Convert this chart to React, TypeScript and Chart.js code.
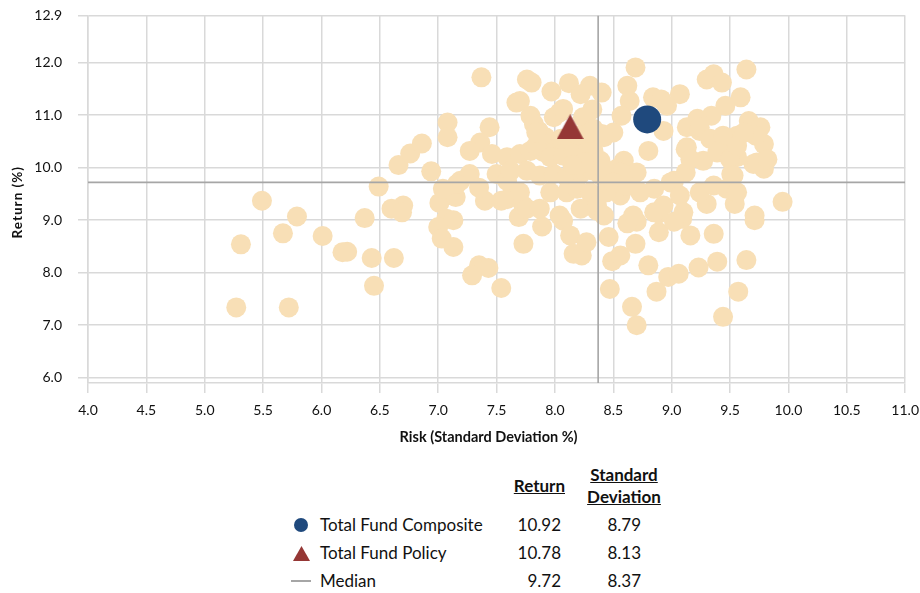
import React, { useEffect, useRef } from "react";
import { Chart, registerables } from "chart.js";

Chart.register(...registerables);

// ---- Data ----
const peerRisk: number[] = [
  5.49, 5.31, 5.27, 5.72, 5.67, 5.79, 6.01, 6.18, 6.22, 6.37,
  6.43, 6.45, 6.62, 6.49, 6.60, 6.70, 6.69, 6.66, 6.76, 6.86,
  7.08, 7.08, 6.94, 7.19, 7.01, 7.15, 7.07, 7.13, 7.00, 7.03,
  7.13, 7.37, 7.76, 7.80, 7.97, 8.12, 8.30, 8.22, 8.40, 7.67,
  7.70, 8.32, 8.04, 7.79, 7.44, 7.82, 7.86, 7.92, 7.99, 8.07,
  8.24, 8.33, 8.40, 7.36, 7.27, 7.46, 7.59, 7.70, 7.79, 7.90,
  7.99, 8.10, 8.22, 8.33, 7.27, 7.50, 7.59, 7.76, 7.87, 7.99,
  8.10, 8.22, 8.33, 8.39, 8.69, 8.62, 8.64, 8.84, 8.91, 9.07,
  8.57, 8.96, 8.93, 8.50, 8.42, 8.80, 9.30, 9.36, 9.43, 9.64,
  9.59, 9.46, 9.34, 9.22, 9.13, 9.24, 9.66, 9.76, 9.56, 9.38,
  9.13, 9.27, 9.79, 9.49, 9.79, 9.70, 9.56, 9.51, 9.79, 8.59,
  8.53, 8.70, 9.12, 9.02, 7.40, 7.54, 7.69, 7.73, 7.89, 7.73,
  7.35, 7.43, 7.29, 7.54, 8.07, 8.13, 8.16, 8.23, 8.27, 8.36,
  8.46, 8.49, 8.47, 8.66, 8.70, 8.69, 8.56, 8.80, 8.87, 8.97,
  9.06, 9.23, 9.39, 9.64, 9.57, 9.44, 9.95, 9.71, 9.71, 9.54,
  9.36, 9.16, 8.89, 8.70, 8.62, 9.09, 9.02, 8.89, 9.30, 9.53,
  7.84, 7.84, 7.96, 8.07, 8.16, 8.27, 8.30, 7.16, 7.62, 8.16,
  8.39, 7.59, 7.70, 7.76, 7.87, 7.96, 8.10, 8.19, 8.30, 8.04,
  8.22, 8.36, 8.42, 7.04, 8.56, 8.42, 9.24, 9.33, 9.44, 9.12,
  9.16, 9.39, 9.50, 9.56, 9.73, 9.82, 9.53, 9.72, 9.62, 8.99,
  8.85, 8.73, 8.56, 8.44, 9.07, 9.24, 9.36, 9.47, 9.56, 9.10,
  8.93, 8.85, 8.67, 8.05, 8.20, 8.25, 8.15, 7.35, 8.50, 8.62,
];
const peerReturn: number[] = [
  9.37, 8.54, 7.34, 7.34, 8.75, 9.07, 8.70, 8.39, 8.40, 9.04,
  8.28, 7.75, 8.28, 9.64, 9.22, 9.28, 9.15, 10.05, 10.27, 10.46,
  10.86, 10.58, 9.93, 9.75, 9.33, 9.44, 9.03, 9.00, 8.87, 8.65,
  8.49, 11.72, 11.68, 11.62, 11.45, 11.61, 11.56, 11.40, 11.43, 11.24,
  11.27, 11.11, 11.05, 10.99, 10.77, 10.83, 10.70, 10.58, 10.96, 11.12,
  10.96, 10.74, 10.64, 10.48, 10.32, 10.26, 10.20, 10.26, 10.32, 10.30,
  10.30, 10.28, 10.30, 10.32, 9.88, 9.88, 9.75, 9.94, 9.85, 9.88,
  9.82, 9.88, 9.94, 10.13, 11.91, 11.56, 11.27, 11.34, 11.30, 11.40,
  10.99, 11.18, 10.70, 10.67, 10.58, 10.32, 11.68, 11.78, 11.62, 11.87,
  11.34, 11.18, 10.99, 10.93, 10.77, 10.70, 10.89, 10.77, 10.61, 10.51,
  10.39, 10.13, 10.45, 10.29, 10.13, 10.07, 10.20, 9.88, 9.98, 10.13,
  9.98, 9.91, 9.91, 9.75, 9.37, 9.37, 9.06, 9.28, 8.88, 8.55,
  8.14, 8.09, 7.95, 7.71, 8.99, 8.71, 8.36, 8.33, 8.58, 9.18,
  8.68, 8.22, 7.69, 7.35, 7.00, 8.55, 8.33, 8.14, 7.64, 7.92,
  7.98, 8.10, 8.21, 8.24, 7.64, 7.16, 9.35, 9.09, 9.00, 9.31,
  8.74, 8.71, 8.77, 8.97, 8.94, 9.03, 8.97, 9.13, 9.31, 9.56,
  10.42, 10.67, 10.20, 10.23, 10.36, 10.48, 10.67, 9.69, 9.94, 9.79,
  9.85, 9.40, 9.53, 9.22, 9.22, 9.53, 9.53, 9.60, 9.53, 9.09,
  9.22, 9.28, 9.09, 9.60, 9.91, 9.98, 10.77, 10.55, 10.61, 10.35,
  10.16, 10.29, 10.16, 10.42, 10.10, 10.16, 9.85, 10.61, 10.67, 9.72,
  9.60, 9.53, 9.47, 9.53, 9.47, 9.53, 9.66, 9.60, 9.53, 9.15,
  9.28, 9.15, 9.09, 10.55, 10.62, 10.10, 10.05, 9.62, 9.72, 9.65,
];

const seriesNames = ["Total Fund Composite", "Total Fund Policy", "Median"];
const seriesReturn = [10.92, 10.78, 9.72];
const seriesStdDev = [8.79, 8.13, 8.37];

const xTicks = [4.0, 4.5, 5.0, 5.5, 6.0, 6.5, 7.0, 7.5, 8.0, 8.5, 9.0, 9.5, 10.0, 10.5, 11.0];
const yTicks = [6.0, 7.0, 8.0, 9.0, 10.0, 11.0, 12.0, 12.9];
const xRange = [4.0, 11.0];
const yRange = [5.9, 12.9];

const xTitle = "Risk (Standard Deviation %)";
const yTitle = "Return (%)";

// ---- Styles ----
const FONT = "Lato, 'Open Sans', sans-serif";
const TEXT = "#111111";
const PEER = "#f8dfb6";
const BLUE = "#1f497d";
const RED = "#953735";
const GRID = "#d9d9d9";
const MEDIAN = "#a6a6a6";
const SHIFT_Y = 9; // canvas is raised by this amount

function makeTriangle(w: number, h: number, color: string) {
  const c = document.createElement("canvas");
  c.width = w;
  c.height = h;
  const ctx = c.getContext("2d")!;
  ctx.fillStyle = color;
  ctx.beginPath();
  ctx.moveTo(w / 2, 0);
  ctx.lineTo(w, h);
  ctx.lineTo(0, h);
  ctx.closePath();
  ctx.fill();
  return c;
}

const titlesPlugin = {
  id: "axisTitles",
  afterDraw(chart: any) {
    const { ctx, chartArea } = chart;
    ctx.save();
    ctx.fillStyle = TEXT;
    ctx.font = `bold 14.5px ${FONT}`;
    ctx.textAlign = "center";
    ctx.textBaseline = "middle";
    ctx.fillText(xTitle, (chartArea.left + chartArea.right) / 2 - 8, chartArea.bottom + 54);
    ctx.translate(18, (chartArea.top + chartArea.bottom) / 2 + 3);
    ctx.rotate(-Math.PI / 2);
    try {
      (ctx as any).letterSpacing = "1px";
    } catch (e) {}
    ctx.font = `bold 13.5px ${FONT}`;
    ctx.fillText(yTitle, 0, 0);
    ctx.restore();
  },
};

function ChartCanvas() {
  const ref = useRef<HTMLCanvasElement | null>(null);
  useEffect(() => {
    if (!ref.current) return;
    const peers = peerRisk.map((x, i) => ({ x, y: peerReturn[i] }));
    const tri = makeTriangle(27, 25, RED);
    const tickFont = { family: FONT, size: 14 };
    const chart = new Chart(ref.current, {
      type: "scatter",
      data: {
        datasets: [
          {
            label: seriesNames[0],
            data: [{ x: seriesStdDev[0], y: seriesReturn[0] }],
            pointRadius: 14,
            pointBackgroundColor: BLUE,
            pointBorderWidth: 0,
            order: 0,
          } as any,
          {
            label: seriesNames[1],
            data: [{ x: seriesStdDev[1], y: seriesReturn[1] }],
            pointStyle: tri,
            pointRadius: 14,
            order: 1,
          } as any,
          {
            label: "Median X",
            data: [
              { x: seriesStdDev[2], y: yRange[0] },
              { x: seriesStdDev[2], y: yRange[1] },
            ],
            showLine: true,
            pointRadius: 0,
            borderColor: MEDIAN,
            borderWidth: 1.6,
            order: 2,
          } as any,
          {
            label: "Median Y",
            data: [
              { x: xRange[0], y: seriesReturn[2] },
              { x: xRange[1], y: seriesReturn[2] },
            ],
            showLine: true,
            pointRadius: 0,
            borderColor: MEDIAN,
            borderWidth: 1.6,
            order: 2,
          } as any,
          {
            label: "Peers",
            data: peers,
            pointRadius: 10,
            pointBackgroundColor: PEER,
            pointBorderWidth: 0,
            order: 3,
          } as any,
        ],
      },
      options: {
        animation: false,
        responsive: false,
        maintainAspectRatio: false,
        layout: { padding: { top: 4, right: 10, left: 0, bottom: 0 } },
        plugins: { legend: { display: false }, tooltip: { enabled: false } },
        scales: {
          x: {
            type: "linear",
            min: xRange[0],
            max: xRange[1],
            afterBuildTicks: (s: any) => {
              s.ticks = xTicks.map((v) => ({ value: v }));
            },
            afterFit: (s: any) => {
              s.height = 67;
            },
            ticks: {
              callback: (v: any) => Number(v).toFixed(1),
              font: tickFont,
              color: TEXT,
              padding: 9,
              maxRotation: 0,
              autoSkip: false,
            },
            grid: { color: GRID, lineWidth: 1.5, tickLength: 10 },
            border: { color: GRID, width: 1.5 },
          },
          y: {
            type: "linear",
            min: yRange[0],
            max: yRange[1],
            afterBuildTicks: (s: any) => {
              s.ticks = yTicks.map((v) => ({ value: v }));
            },
            afterFit: (s: any) => {
              s.width = 88;
            },
            ticks: {
              callback: (v: any) => Number(v).toFixed(1),
              font: tickFont,
              color: TEXT,
              padding: 16,
              autoSkip: false,
            },
            grid: { color: GRID, lineWidth: 1.5, tickLength: 10 },
            border: { color: GRID, width: 1.5 },
          },
        },
      } as any,
      plugins: [titlesPlugin],
    });
    return () => chart.destroy();
  }, []);
  return (
    <canvas
      ref={ref}
      width={928}
      height={459}
      style={{ position: "absolute", left: 0, top: -SHIFT_Y, width: 928, height: 459 }}
    />
  );
}

function Marker({ kind }: { kind: number }) {
  if (kind === 0)
    return (
      <div style={{ width: 14, height: 14, borderRadius: "50%", background: BLUE }} />
    );
  if (kind === 1)
    return (
      <svg width={17} height={15} style={{ display: "block" }}>
        <polygon points="8.5,0 17,15 0,15" fill={RED} />
      </svg>
    );
  return <div style={{ width: 20, height: 1.5, background: MEDIAN }} />;
}

export default function App() {
  const rowCenters = [525, 553, 581];
  const text: React.CSSProperties = {
    position: "absolute",
    fontFamily: FONT,
    fontSize: 17,
    color: TEXT,
    lineHeight: "22px",
    whiteSpace: "nowrap",
  };
  return (
    <div
      style={{
        position: "absolute",
        left: 0,
        top: 0,
        width: 920,
        height: 593,
        background: "#fff",
        overflow: "hidden",
      }}
    >
      <ChartCanvas />
      <div
        style={{
          ...text,
          left: 470,
          width: 95,
          top: 475,
          textAlign: "right",
          fontWeight: 700,
          textDecoration: "underline",
        }}
      >
        Return
      </div>
      <div
        style={{
          ...text,
          left: 574,
          width: 100,
          top: 464,
          textAlign: "center",
          fontWeight: 700,
          textDecoration: "underline",
        }}
      >
        Standard
        <br />
        Deviation
      </div>
      {seriesNames.map((name, i) => (
        <React.Fragment key={name}>
          <div
            style={{
              position: "absolute",
              left: 291,
              width: 20,
              top: rowCenters[i] - 10,
              height: 20,
              display: "flex",
              alignItems: "center",
              justifyContent: "center",
            }}
          >
            <Marker kind={i} />
          </div>
          <div style={{ ...text, left: 320, top: rowCenters[i] - 11 }}>{name}</div>
          <div style={{ ...text, left: 480, width: 81, textAlign: "right", top: rowCenters[i] - 11 }}>
            {seriesReturn[i].toFixed(2)}
          </div>
          <div style={{ ...text, left: 560, width: 81, textAlign: "right", top: rowCenters[i] - 11 }}>
            {seriesStdDev[i].toFixed(2)}
          </div>
        </React.Fragment>
      ))}
    </div>
  );
}
